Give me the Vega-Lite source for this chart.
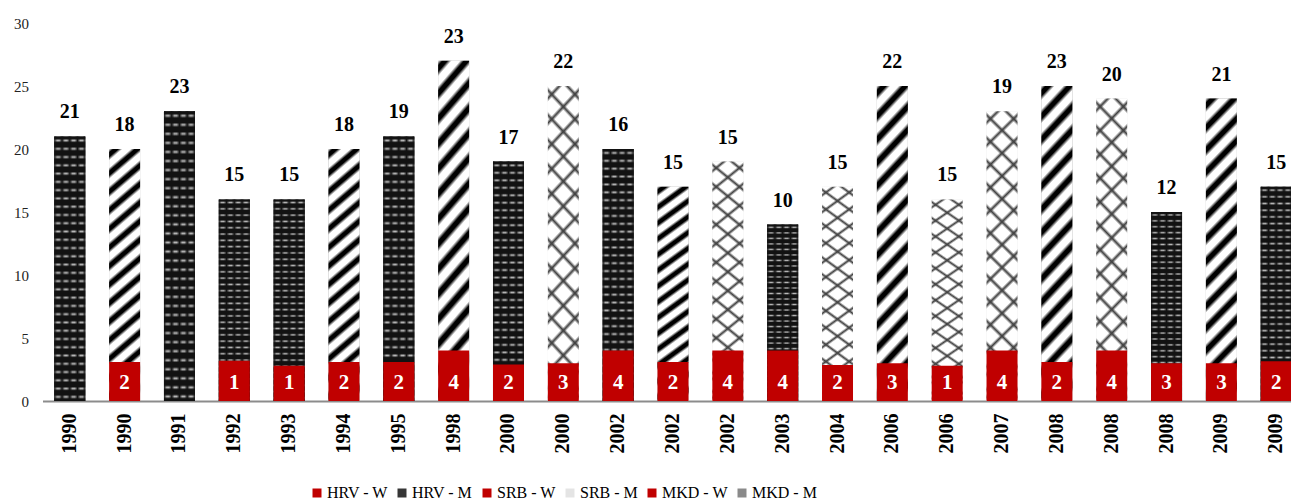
{
  "$schema": "https://vega.github.io/schema/vega-lite/v6.json",
  "autosize": {"type": "none"},
  "padding": {"left": 42.5, "top": 23, "right": 0, "bottom": 101},
  "width": 1248.5,
  "height": 378,
  "config": {"font": "Liberation Serif", "view": {"stroke": null}, "axis": {"grid": false}},
  "data": {"values": [
    {"bar": "1990 HRV", "total": 21, "wh": 0, "m": 21, "wl": null, "mser": "HRV - M", "wser": "HRV - W", "c": "HRV"},
    {"bar": "1990 MKD", "total": 20, "wh": 3.1, "m": 18, "wl": 2, "mser": "MKD - M", "wser": "MKD - W", "c": "MKD"},
    {"bar": "1991 HRV", "total": 23, "wh": 0, "m": 23, "wl": null, "mser": "HRV - M", "wser": "HRV - W", "c": "HRV"},
    {"bar": "1992 HRV", "total": 16, "wh": 3.2, "m": 15, "wl": 1, "mser": "HRV - M", "wser": "HRV - W", "c": "HRV"},
    {"bar": "1993 HRV", "total": 16, "wh": 2.8, "m": 15, "wl": 1, "mser": "HRV - M", "wser": "HRV - W", "c": "HRV"},
    {"bar": "1994 MKD", "total": 20, "wh": 3.1, "m": 18, "wl": 2, "mser": "MKD - M", "wser": "MKD - W", "c": "MKD"},
    {"bar": "1995 HRV", "total": 21, "wh": 3.1, "m": 19, "wl": 2, "mser": "HRV - M", "wser": "HRV - W", "c": "HRV"},
    {"bar": "1998 MKD", "total": 27, "wh": 4, "m": 23, "wl": 4, "mser": "MKD - M", "wser": "MKD - W", "c": "MKD"},
    {"bar": "2000 HRV", "total": 19, "wh": 2.9, "m": 17, "wl": 2, "mser": "HRV - M", "wser": "HRV - W", "c": "HRV"},
    {"bar": "2000 SRB", "total": 25, "wh": 3.0, "m": 22, "wl": 3, "mser": "SRB - M", "wser": "SRB - W", "c": "SRB"},
    {"bar": "2002 HRV", "total": 20, "wh": 4, "m": 16, "wl": 4, "mser": "HRV - M", "wser": "HRV - W", "c": "HRV"},
    {"bar": "2002 MKD", "total": 17, "wh": 3.1, "m": 15, "wl": 2, "mser": "MKD - M", "wser": "MKD - W", "c": "MKD"},
    {"bar": "2002 SRB", "total": 19, "wh": 4, "m": 15, "wl": 4, "mser": "SRB - M", "wser": "SRB - W", "c": "SRB"},
    {"bar": "2003 HRV", "total": 14, "wh": 4, "m": 10, "wl": 4, "mser": "HRV - M", "wser": "HRV - W", "c": "HRV"},
    {"bar": "2004 SRB", "total": 17, "wh": 2.85, "m": 15, "wl": 2, "mser": "SRB - M", "wser": "SRB - W", "c": "SRB"},
    {"bar": "2006 MKD", "total": 25, "wh": 3.0, "m": 22, "wl": 3, "mser": "MKD - M", "wser": "MKD - W", "c": "MKD"},
    {"bar": "2006 SRB", "total": 16, "wh": 2.8, "m": 15, "wl": 1, "mser": "SRB - M", "wser": "SRB - W", "c": "SRB"},
    {"bar": "2007 SRB", "total": 23, "wh": 4, "m": 19, "wl": 4, "mser": "SRB - M", "wser": "SRB - W", "c": "SRB"},
    {"bar": "2008 MKD", "total": 25, "wh": 3.1, "m": 23, "wl": 2, "mser": "MKD - M", "wser": "MKD - W", "c": "MKD"},
    {"bar": "2008 SRB", "total": 24, "wh": 4, "m": 20, "wl": 4, "mser": "SRB - M", "wser": "SRB - W", "c": "SRB"},
    {"bar": "2008 HRV", "total": 15, "wh": 3.0, "m": 12, "wl": 3, "mser": "HRV - M", "wser": "HRV - W", "c": "HRV"},
    {"bar": "2009 MKD", "total": 24, "wh": 3.0, "m": 21, "wl": 3, "mser": "MKD - M", "wser": "MKD - W", "c": "MKD"},
    {"bar": "2009 HRV", "total": 17, "wh": 3.15, "m": 15, "wl": 2, "mser": "HRV - M", "wser": "HRV - W", "c": "HRV"}
  ]},
  "encoding": {
    "x": {
      "field": "bar", "type": "nominal", "sort": null,
      "scale": {"range": [0, 1261], "paddingInner": 0.435, "paddingOuter": 0.215},
      "axis": {
        "title": null, "labelAngle": -90, "labelExpr": "substring(datum.label, 0, 4)",
        "labelFont": "Liberation Serif", "labelFontSize": 20, "labelFontWeight": "bold", "labelColor": "#000000",
        "ticks": false, "tickSize": 0, "labelPadding": 12, "domainColor": "#8c8c8c", "domainWidth": 2
      }
    }
  },
  "layer": [
    {
      "mark": {"type": "bar"},
      "encoding": {
        "y": {
          "field": "total", "type": "quantitative",
          "scale": {"domain": [0, 30], "nice": false},
          "axis": {"title": null, "values": [0, 5, 10, 15, 20, 25, 30], "domain": false, "ticks": false, "tickSize": 0, "labelPadding": 14, "labelFontSize": 15, "labelFont": "Liberation Serif", "labelColor": "#222222", "grid": false}
        },
        "fill": {
          "field": "mser", "type": "nominal",
          "scale": {"domain": ["HRV - W", "HRV - M", "SRB - W", "SRB - M", "MKD - W", "MKD - M"], "range": ["#c00000", "#363636", "#c00000", "#e4e4e4", "#c00000", "#8a8a8a"]},
          "legend": {"title": null, "orient": "none", "legendX": 266.5, "legendY": 462, "direction": "horizontal", "columns": 6, "symbolType": "square", "symbolSize": 81, "symbolStrokeWidth": 0, "labelFontSize": 16, "labelFont": "Liberation Serif", "labelColor": "#000000", "labelOffset": 2, "columnPadding": 6, "padding": 0}
        }
      }
    },
    {
      "transform": [{"filter": "datum.c === 'HRV'"}],
      "mark": {"type": "bar", "fill": {"gradient": "linear", "x1": 0, "y1": 0, "x2": 0, "y2": 1, "stops": [
        {"offset": 0, "color": "#121212"},
        {"offset": 0.0078, "color": "#121212"}, {"offset": 0.0156, "color": "#b8b8b8"}, {"offset": 0.0234, "color": "#121212"},
        {"offset": 0.0391, "color": "#121212"}, {"offset": 0.0469, "color": "#b8b8b8"}, {"offset": 0.0547, "color": "#121212"},
        {"offset": 0.0703, "color": "#121212"}, {"offset": 0.0781, "color": "#b8b8b8"}, {"offset": 0.0859, "color": "#121212"},
        {"offset": 0.1016, "color": "#121212"}, {"offset": 0.1094, "color": "#b8b8b8"}, {"offset": 0.1172, "color": "#121212"},
        {"offset": 0.1328, "color": "#121212"}, {"offset": 0.1406, "color": "#b8b8b8"}, {"offset": 0.1484, "color": "#121212"},
        {"offset": 0.1641, "color": "#121212"}, {"offset": 0.1719, "color": "#b8b8b8"}, {"offset": 0.1797, "color": "#121212"},
        {"offset": 0.1953, "color": "#121212"}, {"offset": 0.2031, "color": "#b8b8b8"}, {"offset": 0.2109, "color": "#121212"},
        {"offset": 0.2266, "color": "#121212"}, {"offset": 0.2344, "color": "#b8b8b8"}, {"offset": 0.2422, "color": "#121212"},
        {"offset": 0.2578, "color": "#121212"}, {"offset": 0.2656, "color": "#b8b8b8"}, {"offset": 0.2734, "color": "#121212"},
        {"offset": 0.2891, "color": "#121212"}, {"offset": 0.2969, "color": "#b8b8b8"}, {"offset": 0.3047, "color": "#121212"},
        {"offset": 0.3203, "color": "#121212"}, {"offset": 0.3281, "color": "#b8b8b8"}, {"offset": 0.3359, "color": "#121212"},
        {"offset": 0.3516, "color": "#121212"}, {"offset": 0.3594, "color": "#b8b8b8"}, {"offset": 0.3672, "color": "#121212"},
        {"offset": 0.3828, "color": "#121212"}, {"offset": 0.3906, "color": "#b8b8b8"}, {"offset": 0.3984, "color": "#121212"},
        {"offset": 0.4141, "color": "#121212"}, {"offset": 0.4219, "color": "#b8b8b8"}, {"offset": 0.4297, "color": "#121212"},
        {"offset": 0.4453, "color": "#121212"}, {"offset": 0.4531, "color": "#b8b8b8"}, {"offset": 0.4609, "color": "#121212"},
        {"offset": 0.4766, "color": "#121212"}, {"offset": 0.4844, "color": "#b8b8b8"}, {"offset": 0.4922, "color": "#121212"},
        {"offset": 0.5078, "color": "#121212"}, {"offset": 0.5156, "color": "#b8b8b8"}, {"offset": 0.5234, "color": "#121212"},
        {"offset": 0.5391, "color": "#121212"}, {"offset": 0.5469, "color": "#b8b8b8"}, {"offset": 0.5547, "color": "#121212"},
        {"offset": 0.5703, "color": "#121212"}, {"offset": 0.5781, "color": "#b8b8b8"}, {"offset": 0.5859, "color": "#121212"},
        {"offset": 0.6016, "color": "#121212"}, {"offset": 0.6094, "color": "#b8b8b8"}, {"offset": 0.6172, "color": "#121212"},
        {"offset": 0.6328, "color": "#121212"}, {"offset": 0.6406, "color": "#b8b8b8"}, {"offset": 0.6484, "color": "#121212"},
        {"offset": 0.6641, "color": "#121212"}, {"offset": 0.6719, "color": "#b8b8b8"}, {"offset": 0.6797, "color": "#121212"},
        {"offset": 0.6953, "color": "#121212"}, {"offset": 0.7031, "color": "#b8b8b8"}, {"offset": 0.7109, "color": "#121212"},
        {"offset": 0.7266, "color": "#121212"}, {"offset": 0.7344, "color": "#b8b8b8"}, {"offset": 0.7422, "color": "#121212"},
        {"offset": 0.7578, "color": "#121212"}, {"offset": 0.7656, "color": "#b8b8b8"}, {"offset": 0.7734, "color": "#121212"},
        {"offset": 0.7891, "color": "#121212"}, {"offset": 0.7969, "color": "#b8b8b8"}, {"offset": 0.8047, "color": "#121212"},
        {"offset": 0.8203, "color": "#121212"}, {"offset": 0.8281, "color": "#b8b8b8"}, {"offset": 0.8359, "color": "#121212"},
        {"offset": 0.8516, "color": "#121212"}, {"offset": 0.8594, "color": "#b8b8b8"}, {"offset": 0.8672, "color": "#121212"},
        {"offset": 0.8828, "color": "#121212"}, {"offset": 0.8906, "color": "#b8b8b8"}, {"offset": 0.8984, "color": "#121212"},
        {"offset": 0.9141, "color": "#121212"}, {"offset": 0.9219, "color": "#b8b8b8"}, {"offset": 0.9297, "color": "#121212"},
        {"offset": 0.9453, "color": "#121212"}, {"offset": 0.9531, "color": "#b8b8b8"}, {"offset": 0.9609, "color": "#121212"},
        {"offset": 0.9766, "color": "#121212"}, {"offset": 0.9844, "color": "#b8b8b8"}, {"offset": 0.9922, "color": "#121212"},
        {"offset": 1, "color": "#121212"}
      ]}},
      "encoding": {"y": {"field": "total", "type": "quantitative"}}
    },
    {
      "transform": [{"filter": "datum.c === 'HRV'"}],
      "mark": {"type": "bar", "fill": {"gradient": "linear", "x1": 0, "y1": 0, "x2": 1, "y2": 0, "stops": [
        {"offset": 0, "color": "#121212"}, {"offset": 0.09, "color": "rgba(18,18,18,0)"}, {"offset": 0.16, "color": "rgba(18,18,18,0)"},
        {"offset": 0.25, "color": "#121212"}, {"offset": 0.34, "color": "rgba(18,18,18,0)"}, {"offset": 0.41, "color": "rgba(18,18,18,0)"},
        {"offset": 0.5, "color": "#121212"}, {"offset": 0.59, "color": "rgba(18,18,18,0)"}, {"offset": 0.66, "color": "rgba(18,18,18,0)"},
        {"offset": 0.75, "color": "#121212"}, {"offset": 0.84, "color": "rgba(18,18,18,0)"}, {"offset": 0.91, "color": "rgba(18,18,18,0)"},
        {"offset": 1, "color": "#121212"}
      ]}},
      "encoding": {"y": {"field": "total", "type": "quantitative"}}
    },
    {
      "transform": [{"filter": "datum.c === 'MKD'"}],
      "mark": {"type": "bar", "fill": {"gradient": "linear", "x1": 0, "y1": 0, "x2": 0.1151, "y2": 1.093, "stops": [
        {"offset": 0, "color": "#ffffff"}, {"offset": 0.0133, "color": "#000000"}, {"offset": 0.0283, "color": "#000000"}, {"offset": 0.0417, "color": "#ffffff"},
        {"offset": 0.0667, "color": "#ffffff"}, {"offset": 0.08, "color": "#000000"}, {"offset": 0.095, "color": "#000000"}, {"offset": 0.1083, "color": "#ffffff"},
        {"offset": 0.1333, "color": "#ffffff"}, {"offset": 0.1467, "color": "#000000"}, {"offset": 0.1617, "color": "#000000"}, {"offset": 0.175, "color": "#ffffff"},
        {"offset": 0.2, "color": "#ffffff"}, {"offset": 0.2133, "color": "#000000"}, {"offset": 0.2283, "color": "#000000"}, {"offset": 0.2417, "color": "#ffffff"},
        {"offset": 0.2667, "color": "#ffffff"}, {"offset": 0.28, "color": "#000000"}, {"offset": 0.295, "color": "#000000"}, {"offset": 0.3083, "color": "#ffffff"},
        {"offset": 0.3333, "color": "#ffffff"}, {"offset": 0.3467, "color": "#000000"}, {"offset": 0.3617, "color": "#000000"}, {"offset": 0.375, "color": "#ffffff"},
        {"offset": 0.4, "color": "#ffffff"}, {"offset": 0.4133, "color": "#000000"}, {"offset": 0.4283, "color": "#000000"}, {"offset": 0.4417, "color": "#ffffff"},
        {"offset": 0.4667, "color": "#ffffff"}, {"offset": 0.48, "color": "#000000"}, {"offset": 0.495, "color": "#000000"}, {"offset": 0.5083, "color": "#ffffff"},
        {"offset": 0.5333, "color": "#ffffff"}, {"offset": 0.5467, "color": "#000000"}, {"offset": 0.5617, "color": "#000000"}, {"offset": 0.575, "color": "#ffffff"},
        {"offset": 0.6, "color": "#ffffff"}, {"offset": 0.6133, "color": "#000000"}, {"offset": 0.6283, "color": "#000000"}, {"offset": 0.6417, "color": "#ffffff"},
        {"offset": 0.6667, "color": "#ffffff"}, {"offset": 0.68, "color": "#000000"}, {"offset": 0.695, "color": "#000000"}, {"offset": 0.7083, "color": "#ffffff"},
        {"offset": 0.7333, "color": "#ffffff"}, {"offset": 0.7467, "color": "#000000"}, {"offset": 0.7617, "color": "#000000"}, {"offset": 0.775, "color": "#ffffff"},
        {"offset": 0.8, "color": "#ffffff"}, {"offset": 0.8133, "color": "#000000"}, {"offset": 0.8283, "color": "#000000"}, {"offset": 0.8417, "color": "#ffffff"},
        {"offset": 0.8667, "color": "#ffffff"}, {"offset": 0.88, "color": "#000000"}, {"offset": 0.895, "color": "#000000"}, {"offset": 0.9083, "color": "#ffffff"},
        {"offset": 0.9333, "color": "#ffffff"}, {"offset": 0.9467, "color": "#000000"}, {"offset": 0.9617, "color": "#000000"}, {"offset": 0.975, "color": "#ffffff"},
        {"offset": 1, "color": "#ffffff"}
      ]}},
      "encoding": {"y": {"field": "total", "type": "quantitative"}}
    },
    {
      "transform": [{"filter": "datum.c === 'SRB'"}],
      "mark": {"type": "bar", "fill": {"gradient": "linear", "x1": 0, "y1": 0, "x2": 0.1151, "y2": 1.093, "stops": [
        {"offset": 0, "color": "#ffffff"},
        {"offset": 0.025, "color": "#ffffff"}, {"offset": 0.0357, "color": "#404040"}, {"offset": 0.0464, "color": "#ffffff"},
        {"offset": 0.0964, "color": "#ffffff"}, {"offset": 0.1071, "color": "#404040"}, {"offset": 0.1179, "color": "#ffffff"},
        {"offset": 0.1679, "color": "#ffffff"}, {"offset": 0.1786, "color": "#404040"}, {"offset": 0.1893, "color": "#ffffff"},
        {"offset": 0.2393, "color": "#ffffff"}, {"offset": 0.25, "color": "#404040"}, {"offset": 0.2607, "color": "#ffffff"},
        {"offset": 0.3107, "color": "#ffffff"}, {"offset": 0.3214, "color": "#404040"}, {"offset": 0.3321, "color": "#ffffff"},
        {"offset": 0.3821, "color": "#ffffff"}, {"offset": 0.3929, "color": "#404040"}, {"offset": 0.4036, "color": "#ffffff"},
        {"offset": 0.4536, "color": "#ffffff"}, {"offset": 0.4643, "color": "#404040"}, {"offset": 0.475, "color": "#ffffff"},
        {"offset": 0.525, "color": "#ffffff"}, {"offset": 0.5357, "color": "#404040"}, {"offset": 0.5464, "color": "#ffffff"},
        {"offset": 0.5964, "color": "#ffffff"}, {"offset": 0.6071, "color": "#404040"}, {"offset": 0.6179, "color": "#ffffff"},
        {"offset": 0.6679, "color": "#ffffff"}, {"offset": 0.6786, "color": "#404040"}, {"offset": 0.6893, "color": "#ffffff"},
        {"offset": 0.7393, "color": "#ffffff"}, {"offset": 0.75, "color": "#404040"}, {"offset": 0.7607, "color": "#ffffff"},
        {"offset": 0.8107, "color": "#ffffff"}, {"offset": 0.8214, "color": "#404040"}, {"offset": 0.8321, "color": "#ffffff"},
        {"offset": 0.8821, "color": "#ffffff"}, {"offset": 0.8929, "color": "#404040"}, {"offset": 0.9036, "color": "#ffffff"},
        {"offset": 0.9536, "color": "#ffffff"}, {"offset": 0.9643, "color": "#404040"}, {"offset": 0.975, "color": "#ffffff"},
        {"offset": 1, "color": "#ffffff"}
      ]}},
      "encoding": {"y": {"field": "total", "type": "quantitative"}}
    },
    {
      "transform": [{"filter": "datum.c === 'SRB'"}],
      "mark": {"type": "bar", "fill": {"gradient": "linear", "x1": 1, "y1": 0, "x2": 0.8849, "y2": 1.093, "stops": [
        {"offset": 0, "color": "rgba(64,64,64,0)"},
        {"offset": 0.025, "color": "rgba(64,64,64,0)"}, {"offset": 0.0357, "color": "#404040"}, {"offset": 0.0464, "color": "rgba(64,64,64,0)"},
        {"offset": 0.0964, "color": "rgba(64,64,64,0)"}, {"offset": 0.1071, "color": "#404040"}, {"offset": 0.1179, "color": "rgba(64,64,64,0)"},
        {"offset": 0.1679, "color": "rgba(64,64,64,0)"}, {"offset": 0.1786, "color": "#404040"}, {"offset": 0.1893, "color": "rgba(64,64,64,0)"},
        {"offset": 0.2393, "color": "rgba(64,64,64,0)"}, {"offset": 0.25, "color": "#404040"}, {"offset": 0.2607, "color": "rgba(64,64,64,0)"},
        {"offset": 0.3107, "color": "rgba(64,64,64,0)"}, {"offset": 0.3214, "color": "#404040"}, {"offset": 0.3321, "color": "rgba(64,64,64,0)"},
        {"offset": 0.3821, "color": "rgba(64,64,64,0)"}, {"offset": 0.3929, "color": "#404040"}, {"offset": 0.4036, "color": "rgba(64,64,64,0)"},
        {"offset": 0.4536, "color": "rgba(64,64,64,0)"}, {"offset": 0.4643, "color": "#404040"}, {"offset": 0.475, "color": "rgba(64,64,64,0)"},
        {"offset": 0.525, "color": "rgba(64,64,64,0)"}, {"offset": 0.5357, "color": "#404040"}, {"offset": 0.5464, "color": "rgba(64,64,64,0)"},
        {"offset": 0.5964, "color": "rgba(64,64,64,0)"}, {"offset": 0.6071, "color": "#404040"}, {"offset": 0.6179, "color": "rgba(64,64,64,0)"},
        {"offset": 0.6679, "color": "rgba(64,64,64,0)"}, {"offset": 0.6786, "color": "#404040"}, {"offset": 0.6893, "color": "rgba(64,64,64,0)"},
        {"offset": 0.7393, "color": "rgba(64,64,64,0)"}, {"offset": 0.75, "color": "#404040"}, {"offset": 0.7607, "color": "rgba(64,64,64,0)"},
        {"offset": 0.8107, "color": "rgba(64,64,64,0)"}, {"offset": 0.8214, "color": "#404040"}, {"offset": 0.8321, "color": "rgba(64,64,64,0)"},
        {"offset": 0.8821, "color": "rgba(64,64,64,0)"}, {"offset": 0.8929, "color": "#404040"}, {"offset": 0.9036, "color": "rgba(64,64,64,0)"},
        {"offset": 0.9536, "color": "rgba(64,64,64,0)"}, {"offset": 0.9643, "color": "#404040"}, {"offset": 0.975, "color": "rgba(64,64,64,0)"},
        {"offset": 1, "color": "rgba(64,64,64,0)"}
      ]}},
      "encoding": {"y": {"field": "total", "type": "quantitative"}}
    },
    {
      "transform": [{"filter": "datum.wh > 0"}],
      "mark": {"type": "bar"},
      "encoding": {
        "y": {"field": "wh", "type": "quantitative"},
        "fill": {
          "field": "wser", "type": "nominal",
          "scale": {"domain": ["HRV - W", "HRV - M", "SRB - W", "SRB - M", "MKD - W", "MKD - M"], "range": ["#c00000", "#363636", "#c00000", "#e4e4e4", "#c00000", "#8a8a8a"]}
        }
      }
    },
    {
      "mark": {"type": "text", "baseline": "alphabetic", "dy": -18, "fontSize": 20, "fontWeight": "bold", "font": "Liberation Serif", "color": "#000000"},
      "encoding": {"y": {"field": "total", "type": "quantitative"}, "text": {"field": "m", "type": "nominal"}}
    },
    {
      "transform": [{"filter": "datum.wl != null"}],
      "mark": {"type": "text", "baseline": "middle", "fontSize": 21, "fontWeight": "bold", "font": "Liberation Serif", "color": "#ffffff"},
      "encoding": {"y": {"datum": 1.4, "type": "quantitative"}, "text": {"field": "wl", "type": "nominal"}}
    }
  ]
}
